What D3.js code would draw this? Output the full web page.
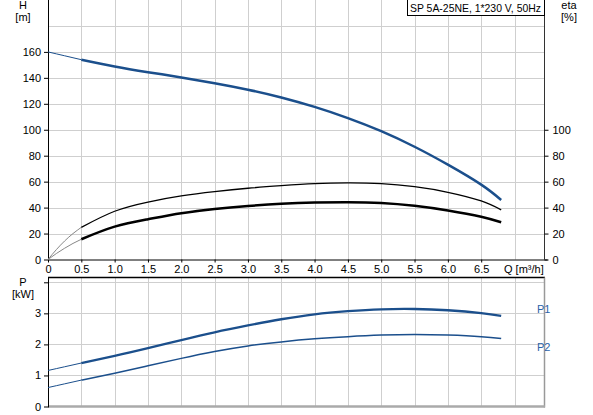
<!DOCTYPE html>
<html>
<head>
<meta charset="utf-8">
<script src="https://cdn.jsdelivr.net/npm/d3@7"></script>
<style>
  body { margin: 0; background: #fff; }
  text { font-family: "Liberation Sans", Arial, sans-serif; font-size: 11px; }
</style>
</head>
<body>
<svg id="chart" width="593" height="415"></svg>
<script>
// flow points (m3/h) for the drawn curve part
var qVals = [0.5, 1.0, 1.5, 2.0, 2.5, 3.0, 3.5, 4.0, 4.5, 5.0, 5.5, 6.0, 6.5, 6.8];
// head H [m]
var hVals = [154, 148.8, 144.4, 140.3, 135.9, 130.9, 124.9, 117.6, 109.0, 98.9, 86.9, 73.1, 57.7, 45.9];
// efficiencies [%]
var etaPump = [24.8, 37.2, 44.3, 49, 52.3, 54.9, 56.9, 58.5, 59.1, 58.5, 56.1, 51.8, 45.1, 38.2];
var etaTotal = [15.6, 25.3, 31, 35.6, 38.9, 41.2, 42.9, 43.9, 44.2, 43.6, 41.4, 37.8, 33, 28.7];
// power [kW]
var p1Vals = [1.40, 1.63, 1.88, 2.14, 2.39, 2.61, 2.81, 2.97, 3.07, 3.13, 3.14, 3.10, 3.01, 2.92];
var p2Vals = [0.85, 1.07, 1.31, 1.55, 1.77, 1.95, 2.08, 2.18, 2.25, 2.30, 2.32, 2.30, 2.25, 2.19];

// thin lead-in part from Q=0 to 0.5
var qExt = [0, 0.125, 0.25, 0.375, 0.5];
var hExt = [160, 158.5, 157, 155.5, 154];
var etaPumpExt = [0, 7.6, 14.3, 20.0, 24.8];
var etaTotalExt = [0, 4.6, 8.7, 12.4, 15.6];
var p1Ext = [1.16, 1.22, 1.28, 1.34, 1.40];
var p2Ext = [0.61, 0.67, 0.73, 0.79, 0.85];

var xTicks = [0, 0.5, 1.0, 1.5, 2.0, 2.5, 3.0, 3.5, 4.0, 4.5, 5.0, 5.5, 6.0, 6.5];
var hTicks = [0, 20, 40, 60, 80, 100, 120, 140, 160];
var etaTicks = [0, 20, 40, 60, 80, 100];
var pTicks = [0, 1, 2, 3];

var title = "SP 5A-25NE, 1*230 V, 50Hz";

var svg = d3.select('#chart');

var left = 48, right = 544.5;
var x = d3.scaleLinear().domain([0, 7.45]).range([left, right]);
var yH = d3.scaleLinear().domain([0, 200]).range([259.5, 0]);
var yP = d3.scaleLinear().domain([0, 4]).range([406.5, 282.3]);
var pTop = 277.5;

var gridColor = "#cfcfcf";
var blue = "#1b4f8c";

function zip(qs, vs){
    var out = [];
    for (var i = 0; i < qs.length; i++){ out.push({x: qs[i], y: vs[i]}); }
    return out;
}

// ---------- top chart ----------
var gTop = svg.append("g");

// vertical gridlines
gTop.append("g").selectAll("line")
    .data(d3.range(1, 15).map(function(d){ return d * 0.5; }))
    .join("line")
    .attr("x1", function(d){ return Math.round(x(d)) + 0.5; })
    .attr("x2", function(d){ return Math.round(x(d)) + 0.5; })
    .attr("y1", 0).attr("y2", yH(0))
    .attr("stroke", gridColor);
// horizontal gridlines
gTop.append("g").selectAll("line")
    .data(d3.range(20, 200, 20))
    .join("line")
    .attr("x1", left).attr("x2", right)
    .attr("y1", function(d){ return Math.round(yH(d)) + 0.5; })
    .attr("y2", function(d){ return Math.round(yH(d)) + 0.5; })
    .attr("stroke", gridColor);

// left axis
gTop.append("g")
    .attr("transform", "translate(" + left + ",0)")
    .call(d3.axisLeft(yH).tickValues(hTicks).tickSize(4).tickSizeOuter(0))
    .call(function(g){
        g.select(".domain").attr("d", "M0.5,0V" + yH(0));
        g.selectAll("text").attr("x", -7).style("font-size", "11px").style("font-family", "Liberation Sans, Arial, sans-serif");
    });

// right axis (eta)
gTop.append("g")
    .attr("transform", "translate(" + right + ",0)")
    .call(d3.axisRight(yH).tickValues(etaTicks).tickSize(4).tickSizeOuter(0))
    .call(function(g){
        g.select(".domain").attr("d", "M0,0V" + yH(0)).attr("stroke", "#333");
        g.selectAll("text").attr("x", 8).style("font-size", "11px").style("font-family", "Liberation Sans, Arial, sans-serif");
    });

// bottom axis
gTop.append("g")
    .attr("transform", "translate(0," + yH(0) + ")")
    .call(d3.axisBottom(x).tickValues(xTicks).tickSize(3).tickSizeOuter(0)
        .tickFormat(function(d){ return d === 0 ? "0" : d3.format(".1f")(d); }))
    .call(function(g){
        g.select(".domain").attr("d", "M" + left + ",0.5H" + (right + 3));
        g.selectAll("text").attr("y", 6).style("font-size", "11px").style("font-family", "Liberation Sans, Arial, sans-serif");
    });

gTop.append("text").attr("x", 504).attr("y", 273).text("Q [m³/h]");

// axis titles
gTop.append("text").attr("x", 23).attr("y", 9).attr("text-anchor", "middle").text("H");
gTop.append("text").attr("x", 23).attr("y", 21).attr("text-anchor", "middle").text("[m]");
gTop.append("text").attr("x", 569).attr("y", 9).attr("text-anchor", "middle").text("eta");
gTop.append("text").attr("x", 569).attr("y", 21).attr("text-anchor", "middle").text("[%]");

// legend box
gTop.append("rect").attr("x", 407.5).attr("y", -0.5).attr("width", 137).attr("height", 16)
    .attr("fill", "#fff").attr("stroke", "#000");
gTop.append("text").attr("x", 410).attr("y", 11.5)
    .attr("textLength", 131).attr("lengthAdjust", "spacingAndGlyphs").text(title);

var lineH = d3.line()
    .x(function(d){ return x(d.x); })
    .y(function(d){ return yH(d.y); })
    .curve(d3.curveNatural);

gTop.append("path").datum(zip(qExt, hExt)).attr("fill", "none")
    .attr("stroke", blue).attr("stroke-width", 1).attr("d", lineH);
gTop.append("path").datum(zip(qVals, hVals)).attr("fill", "none")
    .attr("stroke", blue).attr("stroke-width", 2.5).attr("d", lineH);

gTop.append("path").datum(zip(qExt, etaPumpExt)).attr("fill", "none")
    .attr("stroke", "#888").attr("stroke-width", 1).attr("d", lineH);
gTop.append("path").datum(zip(qVals, etaPump)).attr("fill", "none")
    .attr("stroke", "#000").attr("stroke-width", 1.3).attr("d", lineH);

gTop.append("path").datum(zip(qExt, etaTotalExt)).attr("fill", "none")
    .attr("stroke", "#888").attr("stroke-width", 1).attr("d", lineH);
gTop.append("path").datum(zip(qVals, etaTotal)).attr("fill", "none")
    .attr("stroke", "#000").attr("stroke-width", 2.5).attr("d", lineH);

// ---------- bottom chart ----------
var gBot = svg.append("g");

gBot.append("g").selectAll("line")
    .data(d3.range(1, 15).map(function(d){ return d * 0.5; }))
    .join("line")
    .attr("x1", function(d){ return Math.round(x(d)) + 0.5; })
    .attr("x2", function(d){ return Math.round(x(d)) + 0.5; })
    .attr("y1", pTop).attr("y2", yP(0))
    .attr("stroke", gridColor);
gBot.append("g").selectAll("line")
    .data([1, 2, 3, 4])
    .join("line")
    .attr("x1", left).attr("x2", right)
    .attr("y1", function(d){ return Math.round(yP(d)) + 0.5; })
    .attr("y2", function(d){ return Math.round(yP(d)) + 0.5; })
    .attr("stroke", gridColor);

// frame: black top, gray right and bottom
gBot.append("line").attr("x1", left).attr("x2", right + 0.5).attr("y1", pTop).attr("y2", pTop)
    .attr("stroke", "#000").attr("stroke-width", 1.3);
gBot.append("line").attr("x1", right).attr("x2", right).attr("y1", pTop).attr("y2", yP(0) + 1)
    .attr("stroke", "#999").attr("stroke-width", 1.5);
gBot.append("line").attr("x1", left).attr("x2", right + 0.5).attr("y1", yP(0)).attr("y2", yP(0))
    .attr("stroke", "#aaa").attr("stroke-width", 2.5);

gBot.append("g")
    .attr("transform", "translate(" + left + ",0)")
    .call(d3.axisLeft(yP).tickValues([0, 1, 2, 3, 4]).tickSize(4).tickSizeOuter(0)
        .tickFormat(function(d){ return pTicks.indexOf(d) >= 0 ? d : ""; }))
    .call(function(g){
        g.select(".domain").attr("d", "M0.5," + pTop + "V" + (yP(0) + 1));
        g.selectAll("text").attr("x", -7).style("font-size", "11px").style("font-family", "Liberation Sans, Arial, sans-serif");
    });

gBot.append("text").attr("x", 23).attr("y", 286).attr("text-anchor", "middle").text("P");
gBot.append("text").attr("x", 23).attr("y", 298).attr("text-anchor", "middle").text("[kW]");

var lineP = d3.line()
    .x(function(d){ return x(d.x); })
    .y(function(d){ return yP(d.y); })
    .curve(d3.curveNatural);

gBot.append("path").datum(zip(qExt, p1Ext)).attr("fill", "none")
    .attr("stroke", blue).attr("stroke-width", 1).attr("d", lineP);
gBot.append("path").datum(zip(qVals, p1Vals)).attr("fill", "none")
    .attr("stroke", blue).attr("stroke-width", 2.3).attr("d", lineP);
gBot.append("path").datum(zip(qExt, p2Ext)).attr("fill", "none")
    .attr("stroke", blue).attr("stroke-width", 1).attr("d", lineP);
gBot.append("path").datum(zip(qVals, p2Vals)).attr("fill", "none")
    .attr("stroke", blue).attr("stroke-width", 1.5).attr("d", lineP);

gBot.append("text").attr("x", 537).attr("y", 313).attr("fill", "#2a62a8").text("P1");
gBot.append("text").attr("x", 537).attr("y", 351).attr("fill", "#2a62a8").text("P2");
</script>
</body>
</html>
